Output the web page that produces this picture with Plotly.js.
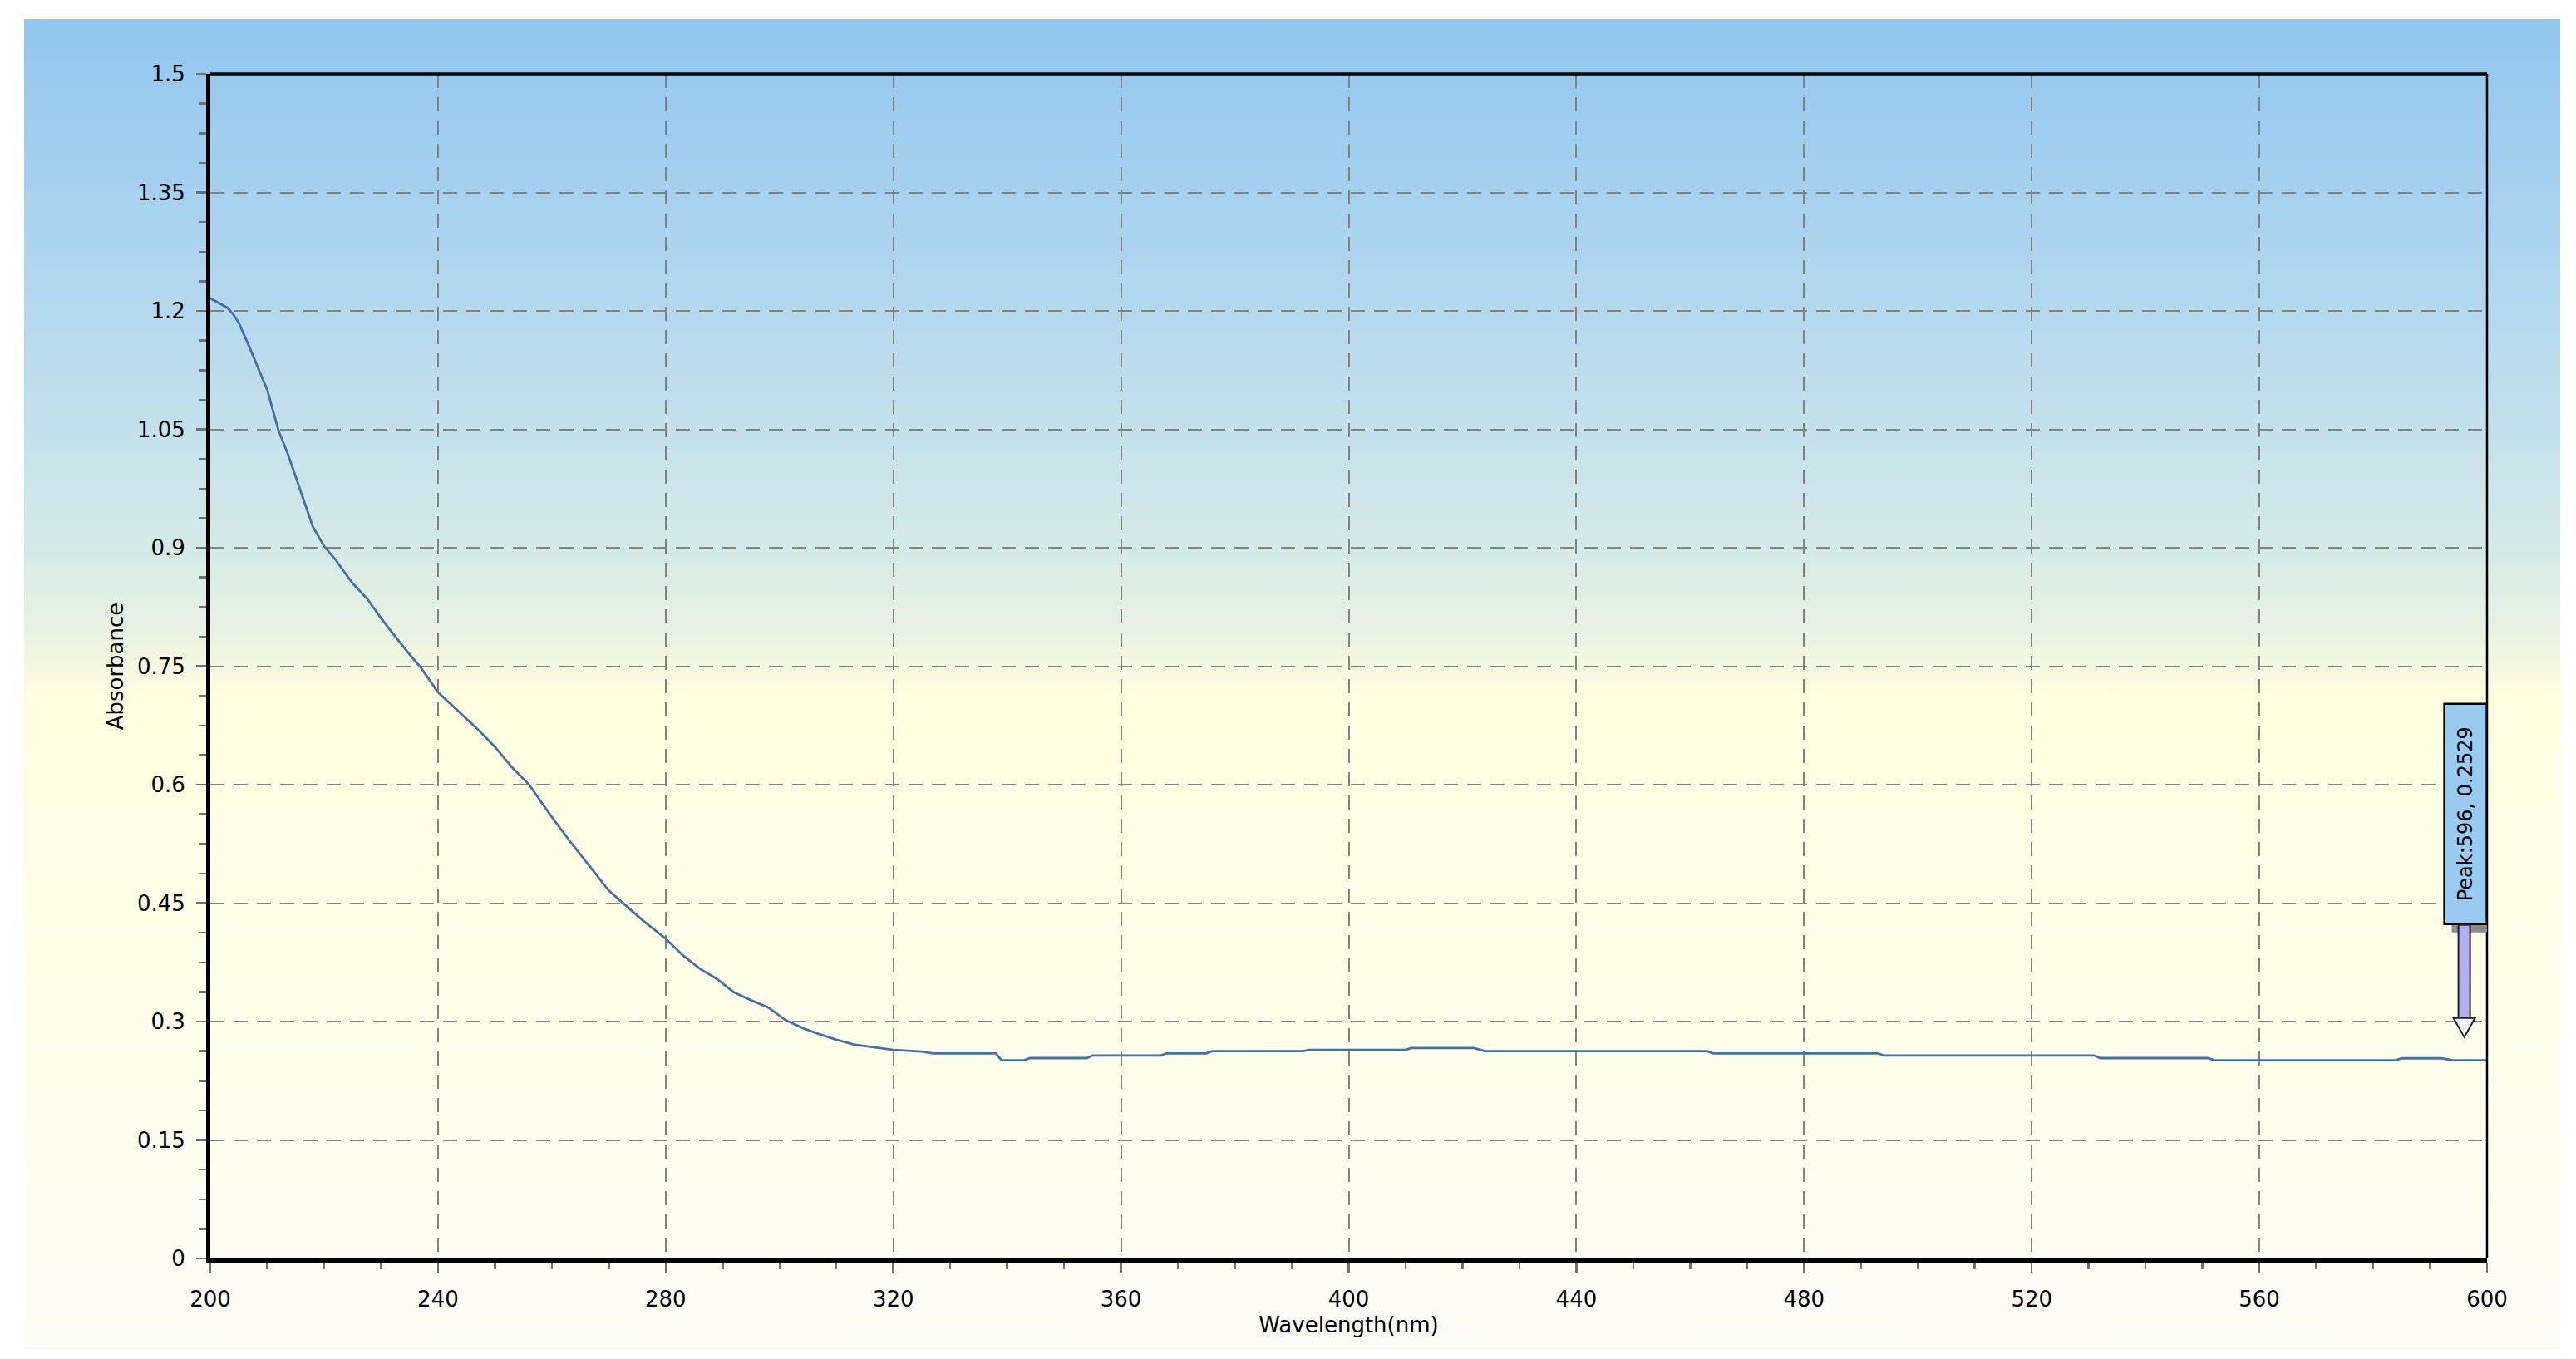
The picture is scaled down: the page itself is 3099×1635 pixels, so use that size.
<!DOCTYPE html>
<html>
<head>
<meta charset="utf-8">
<script src="https://cdn.plot.ly/plotly-3.0.1.min.js"></script>
<style>
  html, body { margin: 0; padding: 0; background: #ffffff; }
  #wrap { position: relative; width: 3099px; height: 1635px; background: #ffffff; }
  #bg { position: absolute; left: 29px; top: 23px; width: 3051px; height: 1600px;
        background: linear-gradient(to bottom, #92c6ee 0%, #a8d2ef 15%, #c2e0ec 30%, #d5eae7 40%, #e8f2e2 46%, #fffddf 51%, #fefee8 70%, #fcfcf6 100%); }
  #chart { position: absolute; left: 0; top: 0; width: 3099px; height: 1635px; }
</style>
</head>
<body>
<div id="wrap"><div id="bg"></div><div id="chart"></div></div>
<script>
// Spectrum
const wavelength = [200, 201, 203, 204, 205, 207, 208, 210, 212, 213.5, 215, 218, 220, 222, 225, 227.5, 230, 232, 235, 237,
  240, 243, 247, 250, 253, 256, 260, 263, 267, 270, 273, 276, 280, 283, 286, 289, 292, 295, 298, 301,
  304, 307, 310, 313, 316, 320, 325, 327, 338, 339, 343, 344, 354, 355, 367, 368, 375, 376, 392, 393,
  410, 411, 422, 424, 463, 464, 493, 494, 531, 532, 551, 552, 584, 585, 592, 594, 600];
const absorbance = [1.216, 1.212, 1.204, 1.196, 1.185, 1.152, 1.135, 1.100, 1.048, 1.021, 0.990, 0.927, 0.902, 0.885, 0.855, 0.836, 0.811, 0.792, 0.765, 0.748,
  0.717, 0.697, 0.670, 0.648, 0.622, 0.600, 0.559, 0.530, 0.494, 0.466, 0.447, 0.428, 0.405, 0.384, 0.367, 0.354, 0.337, 0.327, 0.318, 0.302,
  0.292, 0.284, 0.277, 0.271, 0.268, 0.264, 0.262, 0.2597, 0.2597, 0.251, 0.251, 0.2537, 0.2537, 0.257, 0.257, 0.2597, 0.2597, 0.2625, 0.2625, 0.264,
  0.264, 0.2664, 0.2664, 0.2625, 0.2625, 0.2597, 0.2597, 0.257, 0.257, 0.2537, 0.2537, 0.251, 0.251, 0.2534, 0.2534, 0.251, 0.251];

const xTickVals = [200, 240, 280, 320, 360, 400, 440, 480, 520, 560, 600];
const xTickText = ['200', '240', '280', '320', '360', '400', '440', '480', '520', '560', '600'];
const yTickVals = [0, 0.15, 0.3, 0.45, 0.6, 0.75, 0.9, 1.05, 1.2, 1.35, 1.5];
const yTickText = ['0', '0.15', '0.3', '0.45', '0.6', '0.75', '0.9', '1.05', '1.2', '1.35', '1.5'];

const peakWavelength = [596];
const peakAbsorbance = [0.2529];

const FONT = 'DejaVu Sans, Liberation Sans, Arial, sans-serif';
const px = peakWavelength[0], py = peakAbsorbance[0];

const trace = {
  x: wavelength, y: absorbance, type: 'scatter', mode: 'lines',
  line: { color: '#47709e', width: 2.8 }, hoverinfo: 'skip', showlegend: false
};

const pix = { xref: 'x', yref: 'y', xsizemode: 'pixel', ysizemode: 'pixel', xanchor: px, yanchor: py, layer: 'above' };

const layout = {
  width: 3099, height: 1635,
  margin: { l: 253, r: 107, t: 89, b: 121, pad: 0 },
  paper_bgcolor: 'rgba(0,0,0,0)', plot_bgcolor: 'rgba(0,0,0,0)',
  font: { family: FONT, size: 26, color: '#000000' },
  showlegend: false,
  xaxis: {
    range: [200, 600], tickmode: 'array', tickvals: xTickVals, ticktext: xTickText,
    ticks: 'outside', ticklen: 12, tickwidth: 2.5, tickcolor: '#707070', ticklabelstandoff: 10,
    tickfont: { family: FONT, size: 26, color: '#000' },
    showgrid: true, gridcolor: '#82837a', gridwidth: 2, griddash: '17px,11px',
    showline: true, linecolor: '#000000', linewidth: 5, zeroline: false,
    minor: { dtick: 10, tick0: 200, ticks: 'outside', ticklen: 8, tickwidth: 2.5, tickcolor: '#707070', showgrid: false },
    title: { text: 'Wavelength(nm)', font: { family: FONT, size: 26, color: '#000' }, standoff: 9 }
  },
  yaxis: {
    range: [0, 1.5], tickmode: 'array', tickvals: yTickVals, ticktext: yTickText,
    ticks: 'outside', ticklen: 12, tickwidth: 2.5, tickcolor: '#707070', ticklabelstandoff: 8,
    tickfont: { family: FONT, size: 26, color: '#000' },
    showgrid: true, gridcolor: '#82837a', gridwidth: 2, griddash: '17px,11px',
    showline: true, linecolor: '#000000', linewidth: 5, zeroline: false,
    minor: { dtick: 0.0375, tick0: 0, ticks: 'outside', ticklen: 8, tickwidth: 2.5, tickcolor: '#707070', showgrid: false },
    title: { text: 'Absorbance', font: { family: FONT, size: 26, color: '#000' }, standoff: 10 }
  },
  shapes: [
    { type: 'line', xref: 'paper', yref: 'paper', x0: 0, x1: 1, y0: 1, y1: 1, line: { color: '#000', width: 3.5 } },
    { type: 'line', xref: 'paper', yref: 'paper', x0: 1, x1: 1, y0: 0, y1: 1, line: { color: '#000', width: 2.5 } },
    Object.assign({ type: 'rect', x0: -15, x1: 37, y0: 152, y1: 417, fillcolor: '#8a8a8a', line: { width: 0 } }, pix),
    Object.assign({ type: 'rect', x0: -24, x1: 27, y0: 162, y1: 427, fillcolor: '#99cbf0', line: { color: '#000', width: 2.5 } }, pix),
    Object.assign({ type: 'rect', x0: -7, x1: 7, y0: 48, y1: 161, fillcolor: '#b5aff2', line: { color: '#222', width: 2 } }, pix),
    Object.assign({ type: 'path', path: 'M -13,49 L 13,49 L 0,26 Z', fillcolor: '#f4f3ff', line: { color: '#222', width: 2 } }, pix)
  ],
  annotations: [
    { x: px, y: py, xref: 'x', yref: 'y', showarrow: false, textangle: -90,
      xanchor: 'center', yanchor: 'middle', xshift: 1.5, yshift: 294.5,
      text: 'Peak:' + px + ', ' + py, font: { family: FONT, size: 24, color: '#000' } }
  ]
};

Plotly.newPlot('chart', [trace], layout, { displayModeBar: false, staticPlot: true });
</script>
</body>
</html>
